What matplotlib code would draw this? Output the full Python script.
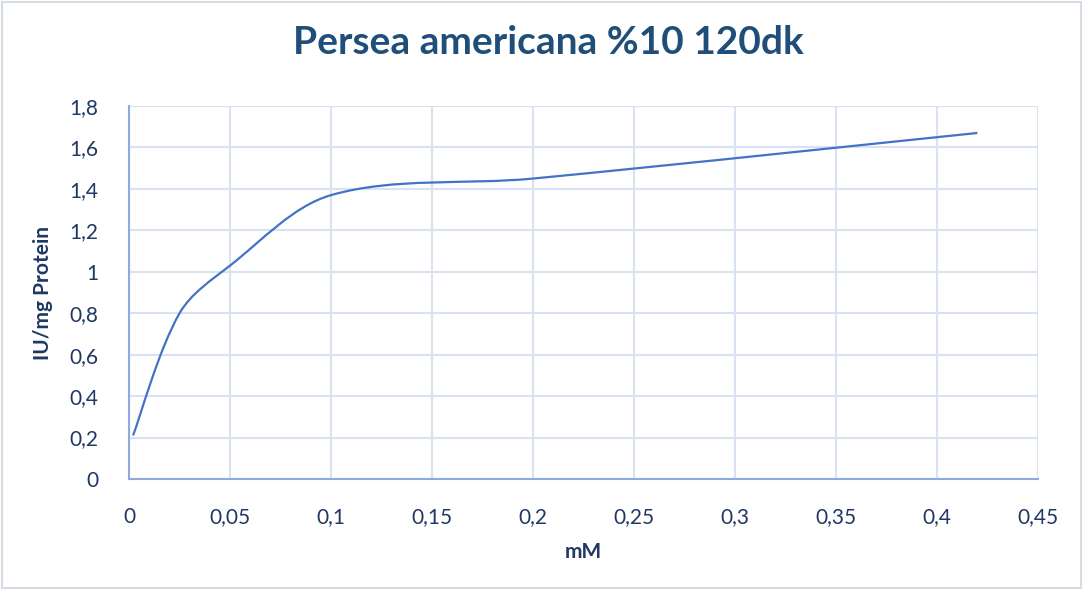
import matplotlib.pyplot as plt
from matplotlib.path import Path
from matplotlib.patches import PathPatch, Rectangle

plt.rcParams["font.family"] = ["Lato", "DejaVu Sans"]

# concentration (mM) vs activity (IU/mg protein)
conc = [0.002, 0.025, 0.05, 0.1, 0.2, 0.42]
activity = [0.21, 0.80, 1.03, 1.37, 1.45, 1.67]

x_ticks = [0, 0.05, 0.1, 0.15, 0.2, 0.25, 0.3, 0.35, 0.4, 0.45]
x_labels = ["0", "0,05", "0,1", "0,15", "0,2", "0,25", "0,3", "0,35", "0,4", "0,45"]
y_ticks = [0, 0.2, 0.4, 0.6, 0.8, 1.0, 1.2, 1.4, 1.6, 1.8]
y_labels = ["0", "0,2", "0,4", "0,6", "0,8", "1", "1,2", "1,4", "1,6", "1,8"]

line_color = "#4472C4"
grid_color = "#D9E2F3"
text_color = "#1F3864"


def smooth_path(ax, xs, ys):
    # smoothed line like Excel: Bezier segments, tangents weighted by
    # segment lengths on screen
    inv = ax.transData.inverted()
    pts = [tuple(p) for p in ax.transData.transform(list(zip(xs, ys)))]
    n = len(pts)

    def dist(a, b):
        return ((a[0] - b[0]) ** 2 + (a[1] - b[1]) ** 2) ** 0.5

    verts = [pts[0]]
    codes = [Path.MOVETO]
    for i in range(n - 1):
        p0 = pts[max(i - 1, 0)]
        p1 = pts[i]
        p2 = pts[i + 1]
        p3 = pts[min(i + 2, n - 1)]
        d01, d12, d23 = dist(p0, p1), dist(p1, p2), dist(p2, p3)
        f1 = d12 / (d01 + d12) / 3 if d01 > 0 else 1 / 6
        f2 = d12 / (d12 + d23) / 3 if d23 > 0 else 1 / 6
        c1 = (p1[0] + (p2[0] - p0[0]) * f1, p1[1] + (p2[1] - p0[1]) * f1)
        c2 = (p2[0] - (p3[0] - p1[0]) * f2, p2[1] - (p3[1] - p1[1]) * f2)
        verts += [c1, c2, p2]
        codes += [Path.CURVE4] * 3
    return Path(inv.transform(verts), codes)


fig = plt.figure(figsize=(10.88, 5.96), dpi=100)
ax = fig.add_axes([0.1186, 0.1963, 0.8355, 0.6258])

ax.set_xlim(0, 0.45)
ax.set_ylim(0, 1.8)
ax.set_xticks(x_ticks)
ax.set_xticklabels(x_labels)
ax.set_yticks(y_ticks)
ax.set_yticklabels(y_labels)
ax.tick_params(length=0, labelsize=15, colors=text_color)
ax.tick_params(axis="x", pad=20)
ax.tick_params(axis="y", pad=22)
ax.grid(True, color=grid_color, lw=1.5)
ax.set_axisbelow(True)
for side in ["top", "right"]:
    ax.spines[side].set_visible(False)
for side in ["left", "bottom"]:
    ax.spines[side].set_color("#8FAADC")
    ax.spines[side].set_linewidth(1.5)

ax.add_patch(
    PathPatch(smooth_path(ax, conc, activity), facecolor="none",
              edgecolor=line_color, lw=1.6, zorder=3)
)

ax.set_xlabel("mM", fontsize=15, fontweight="bold", color=text_color, labelpad=11)
ax.set_ylabel("IU/mg Protein", fontsize=15, fontweight="bold", color=text_color, labelpad=12)
fig.suptitle("Persea americana %10 120dk", x=0.504, y=0.958, fontsize=28,
             fontweight="bold", color="#1F4E79")

fig.patches.append(
    Rectangle((0.002, 0.014), 0.992, 0.982, transform=fig.transFigure,
              fill=False, edgecolor="#D6DCE4", lw=1.5)
)

fig.savefig("out.png", dpi=100)
